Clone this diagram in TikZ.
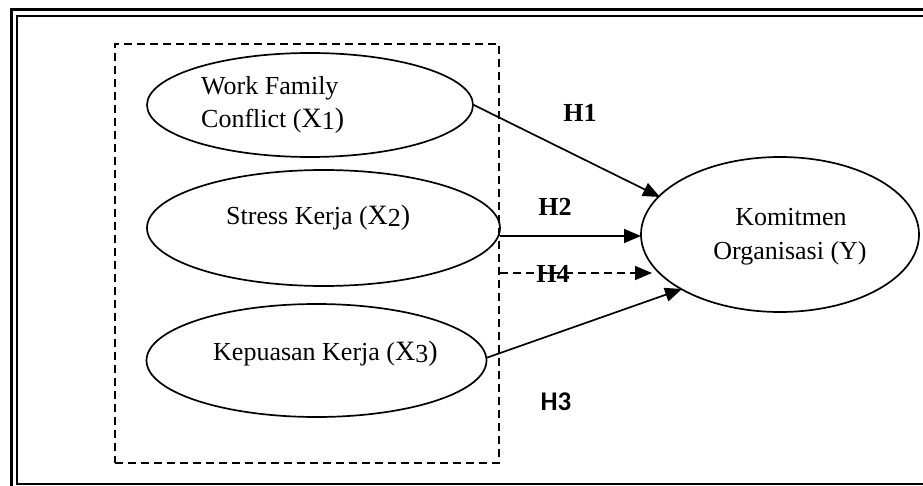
\documentclass[tikz,border=0pt]{standalone}
\usepackage{fontspec}
\setmainfont{Liberation Serif}
\newfontfamily\calib{Carlito}
\usetikzlibrary{arrows.meta,shapes.geometric}
\newcommand{\xv}[1]{\fontsize{28}{30}\selectfont X\raisebox{-2pt}{\fontsize{26}{30}\selectfont #1}}
\begin{document}
\begin{tikzpicture}[x=1pt,y=-1pt,
  ell/.style={draw,ellipse,line width=1.7pt,inner sep=0pt},
  txt/.style={font=\fontsize{26}{33}\selectfont,inner sep=0pt,align=left},
  hlab/.style={font=\fontsize{26}{30}\selectfont\bfseries,inner sep=0pt},
  arr/.style={line width=1.7pt,-{Triangle[length=17pt,width=14pt]}},
  dashbox/.style={line width=1.5pt,dash pattern=on 8pt off 5pt}]
\useasboundingbox (0,0) rectangle (923,486);
% double frame
\draw[line width=3pt] (11,10) rectangle (935,494);
\draw[line width=2pt] (17,16) rectangle (929,484);
% dashed group box
\node[draw,dashbox,minimum width=384pt,minimum height=419pt,inner sep=0pt] (grp) at (307,253.5) {};
% ellipses
\node[ell,minimum width=326pt,minimum height=104pt] (x1) at (310,105) {};
\node[ell,minimum width=353pt,minimum height=116pt] (x2) at (323.5,228) {};
\node[ell,minimum width=340pt,minimum height=113pt] (x3) at (316.5,360.5) {};
\node[ell,minimum width=278pt,minimum height=155pt] (y) at (780,234.5) {};
% texts
\node[txt,anchor=base west] (t1a) at (201,95) {Work Family};
\node[txt,anchor=base west] (t1b) at (201,128) {Conflict (\xv{1})};
\node[txt,anchor=base west] (t2) at (226,225) {Stress Kerja (\xv{2})};
\node[txt,anchor=base west] (t3) at (213,360) {Kepuasan Kerja (\xv{3})};
\node[txt,anchor=base] (ty1) at (791,226) {Komitmen};
\node[txt,anchor=base] (ty2) at (790,259) {Organisasi (Y)};
% connector endpoints
\coordinate (s1) at (x1.east);
\coordinate (e1) at (660,197);
\coordinate (s2) at (500,236);
\coordinate (e2) at (641,236);
\coordinate (s4) at (500,273);
\coordinate (e4) at (652,273);
\coordinate (s3) at (486,358);
\coordinate (e3) at (682,289);
\draw[arr] (s1) -- (e1);
\draw[arr] (s2) -- (e2);
\draw[arr,dash pattern=on 8pt off 5pt] (s4) -- (e4);
\draw[arr] (s3) -- (e3);
% labels
\node[hlab] (h1) at (580,113) {H1};
\node[hlab] (h2) at (555,207) {H2};
\node[hlab] (h4) at (553,274) {H4};
\node[hlab,font=\fontsize{27}{30}\selectfont\calib\bfseries] (h3) at (556,402) {H3};
\end{tikzpicture}
\end{document}
